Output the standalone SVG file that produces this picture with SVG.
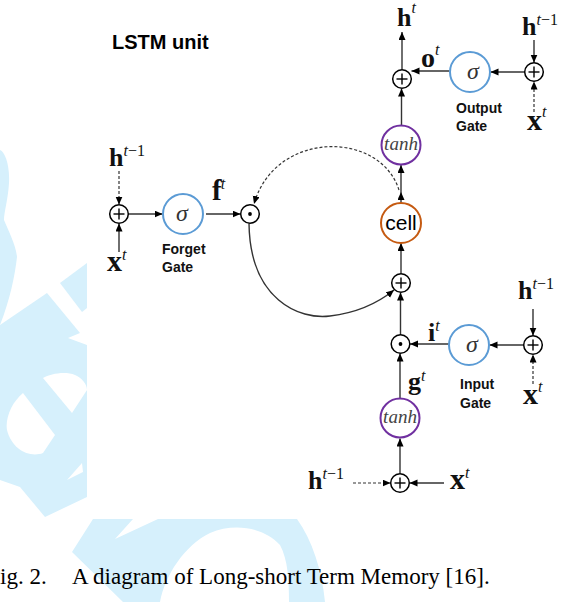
<svg xmlns="http://www.w3.org/2000/svg" width="562" height="602" viewBox="0 0 562 602">
<style>
.wm{fill:#D6F0FC;stroke:none}
.ln{stroke:#333;stroke-width:1.4;fill:none}
.dash{stroke:#333;stroke-width:1.2;fill:none;stroke-dasharray:3,2}
.op{fill:#fff;stroke:#000;stroke-width:1.5}
.sig{fill:#fff;stroke:#5B9BD5;stroke-width:2}
.th{fill:#fff;stroke:#7030A0;stroke-width:2}
.cl{fill:#fff;stroke:#C55A11;stroke-width:2}
.pl{stroke:#000;stroke-width:1.4}
.m{font-family:"Liberation Serif",serif;font-weight:bold;font-size:26px;fill:#111}
.big{font-size:29px}
.xx{font-size:30px}
.oo{font-size:28px}
.sup{font-family:"Liberation Serif",serif;font-style:italic;font-weight:normal;font-size:16px}
.supn{font-family:"Liberation Serif",serif;font-style:normal;font-weight:normal;font-size:16px}
.gl{font-family:"Liberation Sans",sans-serif;font-weight:bold;font-size:14px;fill:#111}
.fn{font-family:"Liberation Serif",serif;font-style:italic;fill:#333;text-anchor:middle}
.sg{font-size:24px}
.tn{font-size:19px;fill:#444}
.cap{font-family:"Liberation Serif",serif;font-size:23px;fill:#000}
</style>
<defs>
<marker id="arr" markerUnits="userSpaceOnUse" markerWidth="9" markerHeight="8" refX="8" refY="3.5" orient="auto">
<path d="M0,0 L8,3.5 L0,7 z" fill="#000"/>
</marker>
</defs>
<g id="watermark">
<path class="wm" d="M0,150 C5,152 10,165 9,183 C8,200 4,212 4,220 C8,230 16,245 17,257 C15,275 10,300 0,325 Z"/>
<path class="wm" d="M60,283 L87,263 L87,308 L82,312 Z"/>
<path class="wm" fill-rule="evenodd" d="M0,325 L47,293 L80,333 L68,338 L87,345 L87,497 L45,517 L20,487 L0,480 Z M43,378 C50,374 65,371 75,375 C82,378 87,384 87,390 L72,413 Z M23,393 L55,435 L43,453 C30,458 12,450 7,430 C5,418 12,402 23,393 Z M67,480 L82,463 L83,472 Z"/>
<path class="wm" fill-rule="evenodd" d="M72,552 L93,519 L133,519 L115,539 L158,519 L297,519 C312,540 322,570 325,602 L123,602 Z M160,602 C165,575 185,545 210,533 C235,522 265,528 280,545 C288,560 289,580 289,602 Z"/>
</g>
<text x="112" y="49" style="font-family:'Liberation Sans',sans-serif;font-weight:bold;font-size:20px" fill="#000">LSTM unit</text>
<g id="connectors">
<line class="dash" x1="119" y1="171" x2="119" y2="204.5" marker-end="url(#arr)"/>
<line class="ln" x1="119" y1="252" x2="119" y2="223.5" marker-end="url(#arr)"/>
<line class="ln" x1="128.5" y1="214" x2="162.5" y2="214" marker-end="url(#arr)"/>
<line class="ln" x1="206" y1="214" x2="240.5" y2="214" marker-end="url(#arr)"/>
<path class="dash" d="M399,190 C380,130 275,130 254,204" marker-end="url(#arr)"/>
<path class="ln" d="M249,223.5 C250,300 300,320 330,316 C355,313 378,303 394,290" marker-end="url(#arr)"/>
<line class="ln" x1="402" y1="69.5" x2="402" y2="32" marker-end="url(#arr)"/>
<line class="ln" x1="449.5" y1="71" x2="411.5" y2="71" marker-end="url(#arr)"/>
<line class="ln" x1="524.5" y1="72" x2="490.5" y2="72" marker-end="url(#arr)"/>
<line class="ln" x1="534" y1="40" x2="534" y2="62.5" marker-end="url(#arr)"/>
<line class="dash" x1="534" y1="112" x2="534" y2="81.5" marker-end="url(#arr)"/>
<line class="ln" x1="401.5" y1="125.5" x2="401.5" y2="88.5" marker-end="url(#arr)"/>
<line class="ln" x1="401" y1="203" x2="401" y2="192" marker-end="url(#arr)"/>
<line class="ln" x1="401" y1="192" x2="401" y2="165" marker-end="url(#arr)"/>
<line class="ln" x1="401" y1="273.5" x2="401" y2="243" marker-end="url(#arr)"/>
<line class="ln" x1="400.5" y1="335" x2="400.5" y2="292.5" marker-end="url(#arr)"/>
<line class="ln" x1="449" y1="344" x2="410" y2="344" marker-end="url(#arr)"/>
<line class="ln" x1="523.5" y1="345" x2="489.5" y2="345" marker-end="url(#arr)"/>
<line class="ln" x1="533" y1="309" x2="533" y2="335.5" marker-end="url(#arr)"/>
<line class="dash" x1="533" y1="384" x2="533" y2="354.5" marker-end="url(#arr)"/>
<line class="ln" x1="400" y1="398.5" x2="400" y2="353.5" marker-end="url(#arr)"/>
<line class="ln" x1="400" y1="473.5" x2="400" y2="438.5" marker-end="url(#arr)"/>
<line class="dash" x1="353" y1="483" x2="390.5" y2="483" marker-end="url(#arr)"/>
<line class="ln" x1="444" y1="483" x2="409.5" y2="483" marker-end="url(#arr)"/>
</g>
<g id="forget-plus"><circle class="op" cx="119" cy="214" r="9.3"/><line class="pl" x1="113.5" y1="214" x2="124.5" y2="214"/><line class="pl" x1="119" y1="208.5" x2="119" y2="219.5"/></g>
<g id="forget-sigma"><circle class="sig" cx="183" cy="214" r="20"/><text class="fn sg" x="182" y="221">σ</text></g>
<g id="forget-label"><text class="gl" x="162" y="254">Forget</text><text class="gl" x="162" y="272">Gate</text></g>
<g id="forget-mult"><circle class="op" cx="250" cy="214" r="9.3"/><circle cx="250" cy="214" r="1.9" fill="#000"/></g>
<g id="output-plus"><circle class="op" cx="402" cy="79" r="9.3"/><line class="pl" x1="396.5" y1="79" x2="407.5" y2="79"/><line class="pl" x1="402" y1="73.5" x2="402" y2="84.5"/></g>
<g id="output-sigma"><circle class="sig" cx="470" cy="72" r="20"/><text class="fn sg" x="473" y="79">σ</text></g>
<g id="output-label"><text class="gl" x="456" y="113">Output</text><text class="gl" x="456" y="131">Gate</text></g>
<g id="output-in-plus"><circle class="op" cx="534" cy="72" r="9.3"/><line class="pl" x1="528.5" y1="72" x2="539.5" y2="72"/><line class="pl" x1="534" y1="66.5" x2="534" y2="77.5"/></g>
<g id="tanh-top"><circle class="th" cx="401" cy="145" r="19.5"/><text class="fn tn" x="401" y="150">tanh</text></g>
<g id="cell"><circle class="cl" cx="401" cy="223" r="20"/><text x="401" y="230" text-anchor="middle" style="font-family:'Liberation Sans',sans-serif;font-size:21px" fill="#000">cell</text></g>
<g id="cell-plus"><circle class="op" cx="401" cy="283" r="9.3"/><line class="pl" x1="395.5" y1="283" x2="406.5" y2="283"/><line class="pl" x1="401" y1="277.5" x2="401" y2="288.5"/></g>
<g id="input-mult"><circle class="op" cx="400.5" cy="344" r="9.3"/><circle cx="400.5" cy="344" r="1.9" fill="#000"/></g>
<g id="input-sigma"><circle class="sig" cx="469" cy="345" r="20"/><text class="fn sg" x="472" y="352">σ</text></g>
<g id="input-label"><text class="gl" x="460" y="389">Input</text><text class="gl" x="460" y="408">Gate</text></g>
<g id="input-in-plus"><circle class="op" cx="533" cy="345" r="9.3"/><line class="pl" x1="527.5" y1="345" x2="538.5" y2="345"/><line class="pl" x1="533" y1="339.5" x2="533" y2="350.5"/></g>
<g id="tanh-bottom"><circle class="th" cx="400" cy="418" r="19.5"/><text class="fn tn" x="400" y="423">tanh</text></g>
<g id="bottom-plus"><circle class="op" cx="400" cy="483" r="9.3"/><line class="pl" x1="394.5" y1="483" x2="405.5" y2="483"/><line class="pl" x1="400" y1="477.5" x2="400" y2="488.5"/></g>
<g id="labels">
<text class="m" x="109" y="166">h<tspan class="sup" dy="-10">t</tspan><tspan class="supn">−1</tspan></text>
<text class="m xx" x="107" y="271">x<tspan class="sup" dy="-11">t</tspan></text>
<text class="m big" x="212" y="200">f<tspan class="sup" dy="-11" dx="-1">t</tspan></text>
<text class="m" x="397" y="26">h<tspan class="sup" dy="-13">t</tspan></text>
<text class="m oo" x="421" y="67">o<tspan class="sup" dy="-12">t</tspan></text>
<text class="m" x="522" y="35">h<tspan class="sup" dy="-10">t</tspan><tspan class="supn">−1</tspan></text>
<text class="m xx" x="527" y="130">x<tspan class="sup" dy="-13">t</tspan></text>
<text class="m" x="428" y="341">i<tspan class="sup" dy="-10">t</tspan></text>
<text class="m" x="408" y="390">g<tspan class="sup" dy="-9">t</tspan></text>
<text class="m" x="518" y="299">h<tspan class="sup" dy="-10">t</tspan><tspan class="supn">−1</tspan></text>
<text class="m xx" x="523" y="404">x<tspan class="sup" dy="-12">t</tspan></text>
<text class="m" x="308" y="489">h<tspan class="sup" dy="-10">t</tspan><tspan class="supn">−1</tspan></text>
<text class="m xx" x="450" y="489">x<tspan class="sup" dy="-11">t</tspan></text>
</g>
<text class="cap" x="0" y="584">ig. 2.</text>
<text class="cap" x="72" y="584">A diagram of Long-short Term Memory [16].</text>
</svg>
